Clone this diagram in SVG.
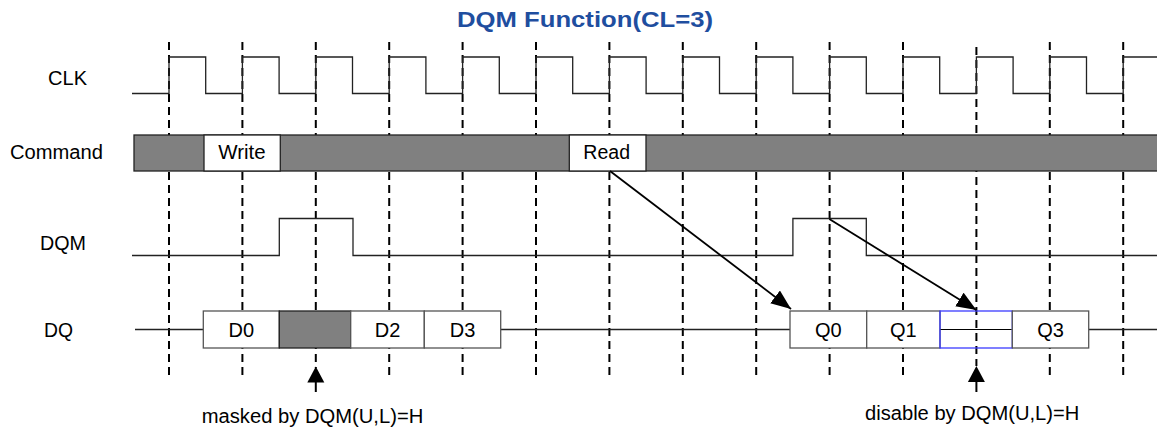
<svg xmlns="http://www.w3.org/2000/svg" width="1157" height="430" viewBox="0 0 1157 430">
<defs>
<style>
text{font-family:"Liberation Sans",Arial,sans-serif;font-size:20px;fill:#000}
.title{font-size:22px;font-weight:bold;fill:#1f4e9f}
.grid{stroke:#000;stroke-width:2;stroke-dasharray:8,5;fill:none}
.wave{stroke:#222;stroke-width:1.3;fill:none}
.box{fill:#fff;stroke:#555;stroke-width:1.3}
.cmd{fill:#fff;stroke:#222;stroke-width:1.3}
.gray{fill:#808080;stroke:#222;stroke-width:1.3}
.arrow{stroke:#000;stroke-width:1.8;fill:none;marker-end:url(#ah)}
.mid{text-anchor:middle}
</style>
<marker id="ah" markerUnits="userSpaceOnUse" markerWidth="22" markerHeight="18" refX="20" refY="8" orient="auto">
<path d="M0,0 L20,8 L0,16 z" fill="#000"/>
</marker>
</defs>
<rect width="1157" height="430" fill="#fff"/>
<text class="title" x="457" y="27" textLength="256" lengthAdjust="spacingAndGlyphs">DQM Function(CL=3)</text>
<g id="grid">
<line class="grid" x1="169" y1="42" x2="169" y2="376"/>
<line class="grid" x1="242.4" y1="42" x2="242.4" y2="377"/>
<line class="grid" x1="315.8" y1="42" x2="315.8" y2="368"/>
<line class="grid" x1="389.2" y1="42" x2="389.2" y2="377"/>
<line class="grid" x1="462.6" y1="42" x2="462.6" y2="377"/>
<line class="grid" x1="536" y1="42" x2="536" y2="377"/>
<line class="grid" x1="609.4" y1="42" x2="609.4" y2="377"/>
<line class="grid" x1="682.8" y1="42" x2="682.8" y2="377"/>
<line class="grid" x1="756.2" y1="42" x2="756.2" y2="377"/>
<line class="grid" x1="829.6" y1="42" x2="829.6" y2="377"/>
<line class="grid" x1="903" y1="42" x2="903" y2="377"/>
<line class="grid" x1="976.4" y1="47" x2="976.4" y2="366"/>
<line class="grid" x1="1049.8" y1="42" x2="1049.8" y2="377"/>
<line class="grid" x1="1123.2" y1="42" x2="1123.2" y2="377"/>
</g>
<g id="clk">
<text x="48" y="85" textLength="39" lengthAdjust="spacingAndGlyphs">CLK</text>
<path class="wave" d="M132,93.5 H169 V57 H205.7 V93.5 H242.4 V57 H279.1 V93.5 H315.8 V57 H352.5 V93.5 H389.2 V57 H425.9 V93.5 H462.6 V57 H499.3 V93.5 H536 V57 H572.7 V93.5 H609.4 V57 H646.1 V93.5 H682.8 V57 H719.5 V93.5 H756.2 V57 H792.9 V93.5 H829.6 V57 H866.3 V93.5 H903 V57 H939.7 V93.5 H976.4 V57 H1013.1 V93.5 H1049.8 V57 H1086.5 V93.5 H1123.2 V57 H1157"/>
</g>
<g id="command">
<text x="10" y="159" textLength="93" lengthAdjust="spacingAndGlyphs">Command</text>
<rect class="gray" x="134" y="135" width="1030" height="36"/>
<rect class="cmd" x="204" y="135" width="76.3" height="36"/>
<text x="218.3" y="159" textLength="47.4" lengthAdjust="spacingAndGlyphs">Write</text>
<rect class="cmd" x="569.3" y="135" width="76.7" height="36"/>
<text x="583.3" y="159" textLength="46.7" lengthAdjust="spacingAndGlyphs">Read</text>
</g>
<g id="dqm">
<text x="40" y="250" textLength="46" lengthAdjust="spacingAndGlyphs">DQM</text>
<path class="wave" d="M132,255.5 H279.3 V218.5 H353 V255.5 H792.9 V218.5 H866.3 V255.5 H1157"/>
</g>
<g id="dq">
<text x="44" y="337" textLength="29" lengthAdjust="spacingAndGlyphs">DQ</text>
<path class="wave" d="M135,329.5 H203.3 M500.7,329.5 H790 M1088.7,329.5 H1157"/>
<rect class="box" x="203.3" y="311" width="76" height="37"/>
<text class="mid" x="241.3" y="337">D0</text>
<rect class="gray" x="279.3" y="311" width="71.4" height="37"/>
<rect class="box" x="350.7" y="311" width="73.6" height="37"/>
<text class="mid" x="387.5" y="337">D2</text>
<rect class="box" x="424.3" y="311" width="76.4" height="37"/>
<text class="mid" x="462.5" y="337">D3</text>
<rect class="box" x="790" y="311" width="76.7" height="37"/>
<text class="mid" x="828.3" y="337">Q0</text>
<rect class="box" x="866.7" y="311" width="73.3" height="37"/>
<text class="mid" x="903.3" y="337">Q1</text>
<rect x="940" y="311" width="72.3" height="37" fill="none" stroke="#3b3bff" stroke-width="1.3"/>
<line x1="940.6" y1="329.5" x2="1011.7" y2="329.5" stroke="#000" stroke-width="1.2"/>
<rect class="box" x="1012.3" y="311" width="76.4" height="37"/>
<text class="mid" x="1050.5" y="337">Q3</text>
</g>
<g id="connectors">
<line class="arrow" x1="610" y1="171" x2="791" y2="309"/>
<line class="arrow" x1="829.3" y1="219" x2="976.4" y2="310"/>
<line x1="315.8" y1="381" x2="315.8" y2="392" stroke="#000" stroke-width="2"/>
<polygon points="315.8,366.5 307.3,382.5 324.3,382.5" fill="#000"/>
<line x1="976.4" y1="381" x2="976.4" y2="392" stroke="#000" stroke-width="2"/>
<polygon points="976.4,366 967.9,382 984.9,382" fill="#000"/>
</g>
<g id="notes">
<text x="201.7" y="423" textLength="221.6" lengthAdjust="spacingAndGlyphs">masked by DQM(U,L)=H</text>
<text x="865" y="420" textLength="214.3" lengthAdjust="spacingAndGlyphs">disable by DQM(U,L)=H</text>
</g>
</svg>
